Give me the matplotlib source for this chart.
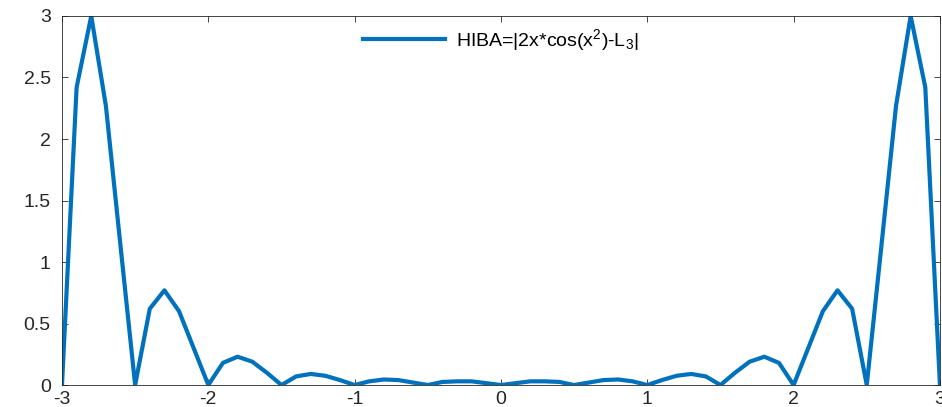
import numpy as np
import matplotlib.pyplot as plt

plt.rcParams['font.family'] = ['Liberation Sans', 'DejaVu Sans']
plt.rcParams['mathtext.default'] = 'regular'
plt.rcParams['axes.unicode_minus'] = False

# x = -3:0.1:3, error values (symmetric curve)
x = np.round(np.arange(-30, 31) / 10, 1)
half = [0.0, 2.42, 3.0, 2.27, 1.13, 0.0, 0.62, 0.77, 0.60, 0.30,
        0.0, 0.18, 0.23, 0.19, 0.10, 0.0, 0.07, 0.09, 0.075, 0.04,
        0.0, 0.03, 0.045, 0.04, 0.02, 0.0, 0.025, 0.03, 0.03, 0.015]
hiba = half + [0.0] + half[::-1]

xticks = [-3, -2, -1, 0, 1, 2, 3]
yticks = [0, 0.5, 1, 1.5, 2, 2.5, 3]
ytick_labels = ['0', '0.5', '1', '1.5', '2', '2.5', '3']

fig = plt.figure(figsize=(9.42, 4.07), dpi=100)
ax = fig.add_axes([0.0658, 0.054, 0.932, 0.9067])

ax.plot(x, hiba, color='#0072BD', linewidth=3,
        label='HIBA=|2x*cos(x$^2$)-L$_3$|')

ax.set_xlim(-3, 3)
ax.set_ylim(0, 3)
ax.set_xticks(xticks)
ax.set_yticks(yticks)
ax.set_yticklabels(ytick_labels)
ax.tick_params(direction='in', top=True, right=True, labelsize=14,
               colors='#262626', length=4, width=0.6)
ax.tick_params(axis='x', pad=4)
ax.tick_params(axis='y', pad=8)
for s in ax.spines.values():
    s.set_color('#262626')
    s.set_linewidth(0.6)

leg = ax.legend(loc='center', bbox_to_anchor=(0.5, 0.935), frameon=False,
                fontsize=14, handlelength=4.2, handletextpad=0.6)

fig.savefig('out.png', dpi=100)
